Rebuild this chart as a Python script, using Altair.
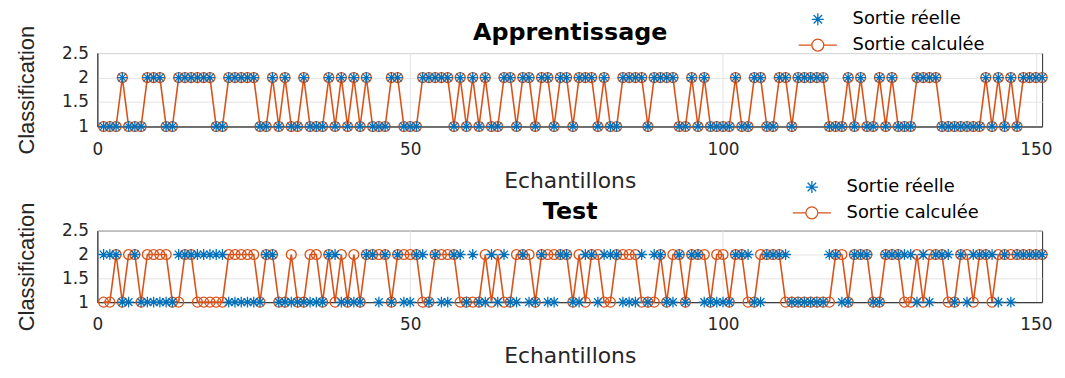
import altair as alt
import pandas as pd

# ---------------- data ----------------
samples = list(range(1, 152))
x_ticks = [0, 50, 100, 150]
y_ticks = [1, 1.5, 2, 2.5]
series_names = ["Sortie réelle", "Sortie calculée"]

top_calc = [1, 1, 1, 2, 1, 1, 1, 2, 2, 2,
            1, 1, 2, 2, 2, 2, 2, 2, 1, 1,
            2, 2, 2, 2, 2, 1, 1, 2, 1, 2,
            1, 1, 2, 1, 1, 1, 2, 1, 2, 1,
            2, 1, 2, 1, 1, 1, 2, 2, 1, 1,
            1, 2, 2, 2, 2, 2, 1, 2, 1, 2,
            1, 2, 1, 1, 2, 2, 1, 2, 2, 1,
            2, 2, 1, 2, 2, 1, 2, 2, 2, 1,
            2, 1, 1, 2, 2, 2, 2, 1, 2, 2,
            2, 2, 1, 1, 2, 1, 2, 1, 1, 1,
            1, 2, 1, 1, 2, 2, 1, 1, 2, 2,
            1, 2, 2, 2, 2, 2, 1, 1, 1, 2,
            1, 2, 1, 1, 2, 1, 2, 1, 1, 1,
            2, 2, 2, 2, 1, 1, 1, 1, 1, 1,
            1, 2, 1, 2, 1, 2, 1, 2, 2, 2,
            2]
top_real = list(top_calc)

test_real = [2, 2, 2, 1, 1, 2, 1, 1, 1, 1,
             1, 1, 2, 2, 2, 2, 2, 2, 2, 2,
             1, 1, 1, 1, 1, 1, 2, 2, 1, 1,
             1, 1, 1, 1, 1, 1, 2, 2, 1, 1,
             1, 1, 2, 2, 1, 2, 1, 2, 1, 1,
             2, 2, 1, 2, 1, 1, 2, 2, 1, 2,
             1, 1, 2, 1, 2, 1, 1, 2, 1, 1,
             2, 1, 1, 2, 2, 1, 1, 2, 2, 1,
             2, 2, 2, 1, 1, 1, 2, 1, 2, 2,
             1, 1, 2, 1, 2, 2, 1, 1, 1, 1,
             1, 2, 2, 2, 1, 1, 2, 2, 2, 2,
             1, 1, 1, 1, 1, 1, 2, 2, 1, 1,
             2, 2, 2, 1, 1, 2, 2, 2, 2, 2,
             1, 2, 1, 2, 2, 2, 1, 2, 1, 2,
             2, 2, 2, 1, 2, 1, 2, 2, 2, 2,
             2]
test_calc = [1, 1, 2, 1, 2, 2, 1, 2, 2, 2,
             2, 1, 1, 2, 2, 1, 1, 1, 1, 1,
             2, 2, 2, 2, 2, 1, 2, 2, 1, 1,
             2, 1, 1, 2, 2, 1, 2, 1, 2, 1,
             2, 1, 2, 2, 2, 2, 1, 2, 2, 2,
             2, 1, 1, 2, 2, 2, 2, 1, 1, 1,
             1, 2, 1, 2, 1, 1, 2, 2, 2, 1,
             2, 2, 2, 2, 2, 1, 2, 1, 2, 2,
             1, 1, 2, 2, 2, 2, 1, 1, 1, 2,
             1, 2, 2, 1, 2, 2, 2, 1, 2, 2,
             1, 2, 2, 1, 1, 2, 2, 2, 2, 1,
             1, 1, 1, 1, 1, 1, 1, 2, 2, 1,
             2, 2, 2, 1, 1, 2, 2, 2, 1, 1,
             2, 1, 2, 2, 2, 1, 1, 2, 2, 1,
             2, 2, 1, 2, 2, 2, 2, 2, 2, 2,
             2]

# ---------------- style ----------------
BLUE = "#0072BD"
ORANGE = "#D95319"
AXIS_COL = "#262626"
GRID_COL = "#e3e3e3"
FONT = "DejaVu Sans"
ASTERISK = "M-1,0L1,0M0,-1L0,1M-0.71,-0.71L0.71,0.71M-0.71,0.71L0.71,-0.71"
CIRCLE_LINE = "M-1,0A1,1,0,1,1,1,0A1,1,0,1,1,-1,0M-3.2,0L-1,0M1,0L3.2,0"

PLOT_W = 952
X_SCALE = alt.Scale(domain=[0, 151], nice=False, zero=False)


def panel(title, real, calc, height, leg_x, leg_y, title_pad):
    df_real = pd.DataFrame({"n": samples, "v": real, "s": series_names[0]})
    df_calc = pd.DataFrame({"n": samples, "v": calc, "s": series_names[1]})
    df_both = pd.concat([df_real, df_calc], ignore_index=True)

    x_bottom = alt.X("n:Q", scale=X_SCALE,
                     axis=alt.Axis(values=x_ticks, title="Echantillons", grid=True,
                                   gridColor=GRID_COL, ticks=False, tickSize=0,
                                   domainColor=AXIS_COL, labelFlush=False,
                                   labelFont=FONT, labelFontSize=17, labelColor=AXIS_COL,
                                   labelPadding=15, titleFont=FONT, titleFontSize=22,
                                   titleFontWeight="normal", titleColor=AXIS_COL,
                                   titlePadding=13))
    # top axis only carries the panel title (like the MATLAB axes title)
    x_top = alt.X("n:Q", scale=X_SCALE,
                  axis=alt.Axis(orient="top", title=title, labels=False, ticks=False,
                                tickSize=0, domain=False, grid=False,
                                titleFont=FONT, titleFontSize=24, titleFontWeight="bold",
                                titleColor="#000000", titleBaseline="alphabetic",
                                titlePadding=title_pad))
    x_none = alt.X("n:Q", scale=X_SCALE, axis=None)
    y = alt.Y("v:Q",
              scale=alt.Scale(domain=[1, 2.5], nice=False, zero=False),
              axis=alt.Axis(values=y_ticks, title="Classification", grid=True,
                            gridColor=GRID_COL, ticks=False, tickSize=0, format="~g",
                            domainColor=AXIS_COL, labelFlush=False,
                            labelFont=FONT, labelFontSize=17, labelColor=AXIS_COL,
                            labelPadding=9, titleFont="Liberation Sans",
                            titleFontSize=22, titleFontWeight="normal",
                            titleColor=AXIS_COL, titlePadding=23))

    legend = alt.Legend(title=None, orient="none", legendX=leg_x, legendY=leg_y,
                        labelFont=FONT, labelFontSize=18, labelColor="#000000",
                        symbolSize=144, symbolStrokeWidth=1.3, symbolOpacity=1,
                        rowPadding=8, labelOffset=26)

    line = alt.Chart(df_calc).mark_line(color=ORANGE, strokeWidth=1.6).encode(x=x_bottom, y=y)
    circles = alt.Chart(df_calc).mark_point(shape="circle", filled=False, color=ORANGE,
                                            size=100, strokeWidth=1.3, opacity=1).encode(x=x_top, y=y)
    stars = alt.Chart(df_real).mark_point(shape=ASTERISK, filled=False, color=BLUE,
                                          size=120, strokeWidth=1.3, opacity=1).encode(x=x_none, y=y)
    leg = alt.Chart(df_both).mark_point(filled=False, strokeOpacity=0, strokeWidth=1.3).encode(
        x=x_none, y=y,
        color=alt.Color("s:N", scale=alt.Scale(domain=series_names, range=[BLUE, ORANGE]),
                        legend=legend),
        shape=alt.Shape("s:N", scale=alt.Scale(domain=series_names,
                                               range=[ASTERISK, CIRCLE_LINE]),
                        legend=legend),
    )
    return alt.layer(line, circles, stars, leg).resolve_axis(x="independent").properties(
        width=PLOT_W, height=height,
    )


top = panel("Apprentissage", top_real, top_calc, 74, 717, -43, 14)
bottom = panel("Test", test_real, test_calc, 72, 711, -53, 12)

chart = alt.vconcat(top, bottom, spacing=105, bounds="flush").resolve_scale(
    color="independent", shape="independent"
).resolve_legend(
    color="independent", shape="independent"
).properties(
    padding={"left": 7, "top": 0, "right": 4, "bottom": 4},
    background="white",
).configure_view(stroke=AXIS_COL, strokeWidth=1)

chart.save("out.html", embed_options={"renderer": "svg", "actions": False})
